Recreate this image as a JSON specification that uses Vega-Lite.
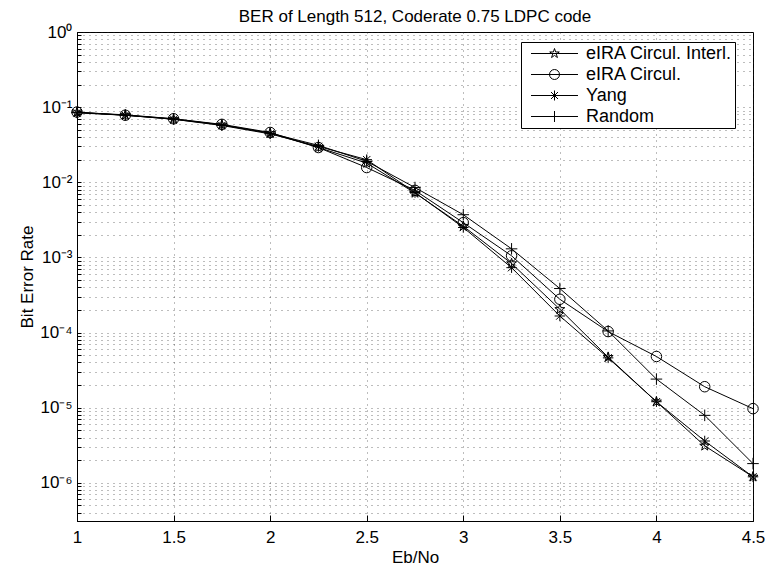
{
  "$schema": "https://vega.github.io/schema/vega-lite/v6.json",
  "width": 676,
  "height": 489,
  "autosize": {"type": "none"},
  "padding": {"left": 77, "top": 32, "right": 14, "bottom": 53},
  "background": "white",
  "title": {"text": "BER of Length 512, Coderate 0.75 LDPC code", "font": "Liberation Sans", "fontSize": 17, "fontWeight": "normal", "color": "black", "anchor": "middle", "offset": -3},
  "data": {"values": [
    {"x": 1, "series": "eIRA Circul. Interl.", "ber": 0.085},
    {"x": 1.25, "series": "eIRA Circul. Interl.", "ber": 0.078},
    {"x": 1.5, "series": "eIRA Circul. Interl.", "ber": 0.069},
    {"x": 1.75, "series": "eIRA Circul. Interl.", "ber": 0.058},
    {"x": 2, "series": "eIRA Circul. Interl.", "ber": 0.045},
    {"x": 2.25, "series": "eIRA Circul. Interl.", "ber": 0.029},
    {"x": 2.5, "series": "eIRA Circul. Interl.", "ber": 0.018},
    {"x": 2.75, "series": "eIRA Circul. Interl.", "ber": 0.0072},
    {"x": 3, "series": "eIRA Circul. Interl.", "ber": 0.0026},
    {"x": 3.25, "series": "eIRA Circul. Interl.", "ber": 0.00083},
    {"x": 3.5, "series": "eIRA Circul. Interl.", "ber": 0.000204},
    {"x": 3.75, "series": "eIRA Circul. Interl.", "ber": 0.000047},
    {"x": 4, "series": "eIRA Circul. Interl.", "ber": 0.000012},
    {"x": 4.25, "series": "eIRA Circul. Interl.", "ber": 0.0000031},
    {"x": 4.5, "series": "eIRA Circul. Interl.", "ber": 0.0000012},
    {"x": 1, "series": "eIRA Circul.", "ber": 0.086},
    {"x": 1.25, "series": "eIRA Circul.", "ber": 0.078},
    {"x": 1.5, "series": "eIRA Circul.", "ber": 0.07},
    {"x": 1.75, "series": "eIRA Circul.", "ber": 0.059},
    {"x": 2, "series": "eIRA Circul.", "ber": 0.046},
    {"x": 2.25, "series": "eIRA Circul.", "ber": 0.029},
    {"x": 2.5, "series": "eIRA Circul.", "ber": 0.0157},
    {"x": 2.75, "series": "eIRA Circul.", "ber": 0.0078},
    {"x": 3, "series": "eIRA Circul.", "ber": 0.0029},
    {"x": 3.25, "series": "eIRA Circul.", "ber": 0.00105},
    {"x": 3.5, "series": "eIRA Circul.", "ber": 0.000277},
    {"x": 3.75, "series": "eIRA Circul.", "ber": 0.000103},
    {"x": 4, "series": "eIRA Circul.", "ber": 0.000048},
    {"x": 4.25, "series": "eIRA Circul.", "ber": 0.000019},
    {"x": 4.5, "series": "eIRA Circul.", "ber": 0.0000097},
    {"x": 1, "series": "Yang", "ber": 0.084},
    {"x": 1.25, "series": "Yang", "ber": 0.078},
    {"x": 1.5, "series": "Yang", "ber": 0.069},
    {"x": 1.75, "series": "Yang", "ber": 0.057},
    {"x": 2, "series": "Yang", "ber": 0.044},
    {"x": 2.25, "series": "Yang", "ber": 0.03},
    {"x": 2.5, "series": "Yang", "ber": 0.02},
    {"x": 2.75, "series": "Yang", "ber": 0.0073},
    {"x": 3, "series": "Yang", "ber": 0.0025},
    {"x": 3.25, "series": "Yang", "ber": 0.00073},
    {"x": 3.5, "series": "Yang", "ber": 0.000166},
    {"x": 3.75, "series": "Yang", "ber": 0.000046},
    {"x": 4, "series": "Yang", "ber": 0.000012},
    {"x": 4.25, "series": "Yang", "ber": 0.0000036},
    {"x": 4.5, "series": "Yang", "ber": 0.0000012},
    {"x": 1, "series": "Random", "ber": 0.085},
    {"x": 1.25, "series": "Random", "ber": 0.079},
    {"x": 1.5, "series": "Random", "ber": 0.07},
    {"x": 1.75, "series": "Random", "ber": 0.058},
    {"x": 2, "series": "Random", "ber": 0.045},
    {"x": 2.25, "series": "Random", "ber": 0.031},
    {"x": 2.5, "series": "Random", "ber": 0.019},
    {"x": 2.75, "series": "Random", "ber": 0.0085},
    {"x": 3, "series": "Random", "ber": 0.0037},
    {"x": 3.25, "series": "Random", "ber": 0.0013},
    {"x": 3.5, "series": "Random", "ber": 0.000385},
    {"x": 3.75, "series": "Random", "ber": 0.000105},
    {"x": 4, "series": "Random", "ber": 0.000024},
    {"x": 4.25, "series": "Random", "ber": 0.0000079},
    {"x": 4.5, "series": "Random", "ber": 0.0000018}
  ]},
  "encoding": {
    "x": {"field": "x", "type": "quantitative", "title": "Eb/No",
      "scale": {"domain": [1, 4.5], "nice": false, "zero": false},
      "axis": {"values": [1, 1.5, 2, 2.5, 3, 3.5, 4, 4.5], "format": "~g", "grid": true, "gridDash": [1, 5], "gridColor": "#222", "gridOpacity": 0.6, "gridWidth": 1,
        "domainColor": "black", "tickColor": "black", "tickSize": -6, "labelPadding": 14, "labelFlush": false, "labelFont": "Liberation Sans", "labelFontSize": 17, "labelColor": "black",
        "titleFont": "Liberation Sans", "titleFontSize": 17, "titleFontWeight": "normal", "titleColor": "black", "titlePadding": 4}},
    "y": {"field": "ber", "type": "quantitative", "title": "Bit Error Rate",
      "scale": {"type": "log", "domain": [3.1e-7, 1], "nice": false},
      "axis": {"values": [4e-7, 5e-7, 6e-7, 7e-7, 8e-7, 9e-7,
          1e-6, 2e-6, 3e-6, 4e-6, 5e-6, 6e-6, 7e-6, 8e-6, 9e-6,
          1e-5, 2e-5, 3e-5, 4e-5, 5e-5, 6e-5, 7e-5, 8e-5, 9e-5,
          1e-4, 2e-4, 3e-4, 4e-4, 5e-4, 6e-4, 7e-4, 8e-4, 9e-4,
          1e-3, 2e-3, 3e-3, 4e-3, 5e-3, 6e-3, 7e-3, 8e-3, 9e-3,
          0.01, 0.02, 0.03, 0.04, 0.05, 0.06, 0.07, 0.08, 0.09,
          0.1, 0.2, 0.3, 0.4, 0.5, 0.6, 0.7, 0.8, 0.9, 1],
        "labelExpr": "abs(log(datum.value)/LN10 - round(log(datum.value)/LN10)) < 0.001 ? ['10⁰','10⁻¹','10⁻²','10⁻³','10⁻⁴','10⁻⁵','10⁻⁶','10⁻⁷'][-round(log(datum.value)/LN10)] : ''",
        "grid": true, "gridDash": [1, 5], "gridColor": "#222", "gridOpacity": 0.6, "gridWidth": 1,
        "domainColor": "black", "tickColor": "black", "tickSize": -4, "labelPadding": 9, "labelFlush": false, "labelFont": "Liberation Sans", "labelFontSize": 17, "labelColor": "black", "labelBound": false, "labelOverlap": false,
        "titleFont": "Liberation Sans", "titleFontSize": 17, "titleFontWeight": "normal", "titleColor": "black", "titlePadding": 3}}
  },
  "layer": [
    {"mark": {"type": "line", "color": "black", "strokeWidth": 1},
     "encoding": {"detail": {"field": "series", "type": "nominal"}}},
    {"mark": {"type": "point", "filled": false, "color": "black", "strokeWidth": 1, "size": 110, "opacity": 1},
     "encoding": {"shape": {"field": "series", "type": "nominal",
        "scale": {"domain": ["eIRA Circul. Interl.", "eIRA Circul.", "Yang", "Random"],
          "range": ["M0,-1L0.2245,-0.309L0.951,-0.309L0.363,0.118L0.588,0.809L0,0.382L-0.588,0.809L-0.363,0.118L-0.951,-0.309L-0.2245,-0.309Z",
                    "circle",
                    "M-1,0L1,0M0,-1L0,1M-0.7,-0.7L0.7,0.7M-0.7,0.7L0.7,-0.7",
                    "M-1.1,0L1.1,0M0,-1.1L0,1.1"]},
        "legend": null}}},
    {"mark": {"type": "point", "filled": false, "color": "black", "strokeWidth": 1, "size": 3844, "opacity": 0},
     "encoding": {"shape": {"field": "series", "type": "nominal",
        "scale": {"domain": ["eIRA Circul. Interl.", "eIRA Circul.", "Yang", "Random"],
          "range": ["M-0.758,0L0.758,0M0,-0.161L0.0362,-0.0498L0.1533,-0.0498L0.0585,0.019L0.0948,0.1304L0,0.0616L-0.0948,0.1304L-0.0585,0.019L-0.1533,-0.0498L-0.0362,-0.0498Z",
                    "M-0.758,0L0.758,0M0.161,0A0.161,0.161,0,1,1,-0.161,0A0.161,0.161,0,1,1,0.161,0",
                    "M-0.758,0L0.758,0M0,-0.161L0,0.161M-0.113,-0.113L0.113,0.113M-0.113,0.113L0.113,-0.113",
                    "M-0.758,0L0.758,0M0,-0.177L0,0.177"]},
        "legend": {"title": null, "orient": "none", "legendX": 444, "legendY": 10,
          "strokeColor": "black", "fillColor": "white", "padding": 2, "cornerRadius": 0,
          "labelOffset": 0, "rowPadding": 2, "clipHeight": 19,
          "symbolOpacity": 1, "symbolStrokeColor": "black", "symbolStrokeWidth": 1, "symbolFillColor": "transparent", "symbolSize": 3844,
          "labelFont": "Liberation Sans", "labelFontSize": 18, "labelColor": "black", "labelLimit": 300}}}}
  ],
  "resolve": {"scale": {"shape": "independent"}},
  "config": {"view": {"stroke": "black", "strokeWidth": 1}}
}
